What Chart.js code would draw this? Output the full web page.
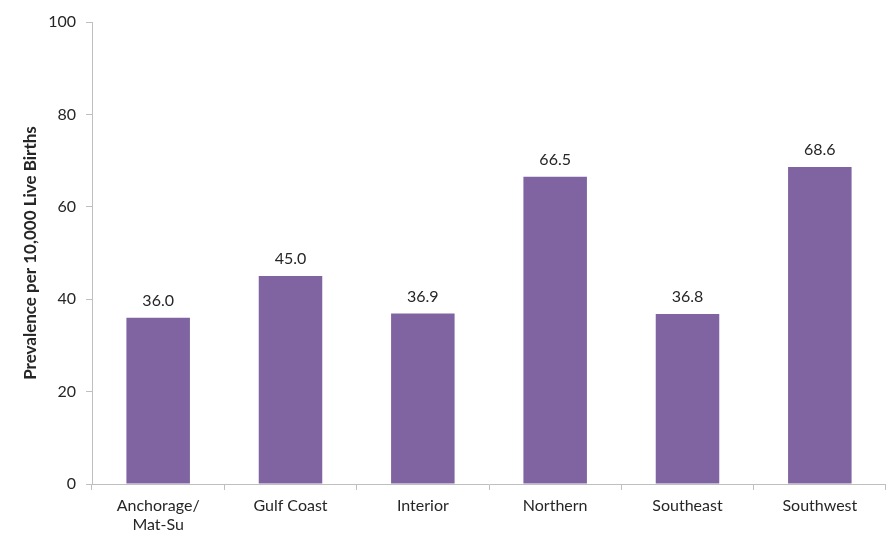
<!DOCTYPE html>
<html><head><meta charset="utf-8">
<script src="https://cdn.jsdelivr.net/npm/chart.js@4"></script>
<style>html,body{margin:0;padding:0;background:#fff}#wrap{width:886px;height:538px}</style>
</head><body><div id="wrap"><canvas id="c" width="886" height="538"></canvas></div>
<script>
const categories = [["Anchorage/","Mat-Su"],"Gulf Coast","Interior","Northern","Southeast","Southwest"];
const prevalence = [36.0, 45.0, 36.9, 66.5, 36.8, 68.6];
const yTicks = [0, 20, 40, 60, 80, 100];

const FONT = "Lato, 'Open Sans', sans-serif";
const valueLabels = {
  id: 'valueLabels',
  afterDatasetsDraw(chart) {
    const ctx = chart.ctx;
    const meta = chart.getDatasetMeta(0);
    ctx.save();
    ctx.font = "16px " + FONT;
    ctx.fillStyle = "#262626";
    ctx.textAlign = "center";
    ctx.textBaseline = "bottom";
    meta.data.forEach((bar, i) => {
      ctx.fillText(prevalence[i].toFixed(1), bar.x, bar.y - 9);
    });
    ctx.restore();
  }
};

new Chart(document.getElementById('c'), {
  type: 'bar',
  data: { labels: categories, datasets: [{ data: prevalence, backgroundColor: '#8064A2', barPercentage: 0.48, categoryPercentage: 1.0 }] },
  options: {
    responsive: false, animation: false,
    layout: { padding: { top: 22, right: 0, left: 0, bottom: 0 } },
    plugins: { legend: { display: false }, tooltip: { enabled: false } },
    scales: {
      x: {
        grid: { offset: true, drawOnChartArea: false, drawTicks: true, tickLength: 6, color: '#bfbfbf' },
        border: { color: '#bfbfbf', width: 1 },
        ticks: { color: '#262626', font: { family: FONT, size: 16 }, padding: 6, maxRotation: 0, autoSkip: false },
        afterFit(s) { s.height = 54; }
      },
      y: {
        min: 0, max: 100,
        afterBuildTicks(s) { s.ticks = yTicks.map(v => ({ value: v })); },
        grid: { drawOnChartArea: false, drawTicks: true, tickLength: 6, color: '#bfbfbf' },
        border: { color: '#bfbfbf', width: 1 },
        ticks: { color: '#262626', font: { family: FONT, size: 16 }, padding: 10 },
        title: { display: true, text: 'Prevalence per 10,000 Live Births', color: '#262626', font: { family: FONT, size: 17, weight: 'bold' }, padding: { top: 20, bottom: 0 } },
        afterFit(s) { s.width = 92; }
      }
    }
  },
  plugins: [valueLabels]
});
</script></body></html>
